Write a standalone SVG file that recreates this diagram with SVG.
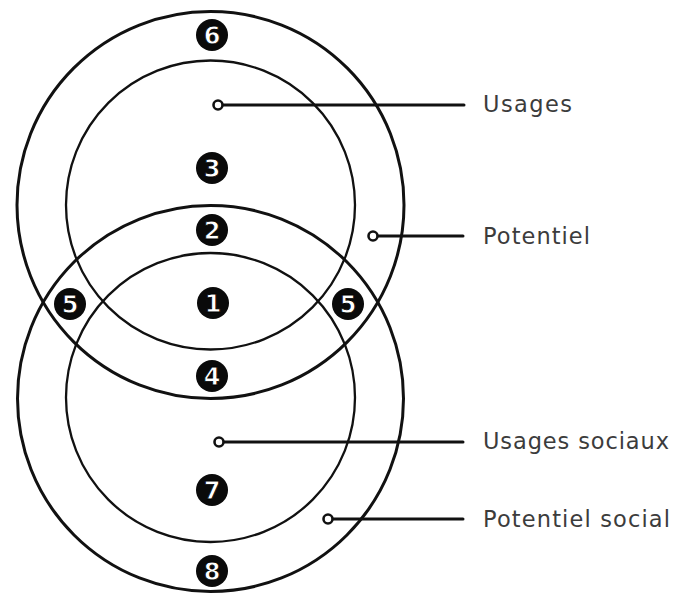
<svg xmlns="http://www.w3.org/2000/svg" width="675" height="594" viewBox="0 0 675 594">
  <style>
    .outer { fill: none; stroke: #111; stroke-width: 3; }
    .inner { fill: none; stroke: #111; stroke-width: 2.3; }
    .badge circle { fill: #0a0a0a; }
    .badge text { fill: #fff; font-family: "DejaVu Sans", sans-serif; font-weight: bold; font-size: 24px; text-anchor: middle; dominant-baseline: central; stroke: #000; stroke-width: 0.8; paint-order: fill; }
    .lbl { fill: #3c3c3c; font-family: "DejaVu Sans", "Liberation Sans", sans-serif; font-size: 22.5px; }
    .conn line { stroke: #111; stroke-width: 3; stroke-linecap: round; }
    .conn circle { fill: #fff; stroke: #111; stroke-width: 2.6; }
  </style>
  <rect width="675" height="594" fill="#fff"/>
  <g id="circles">
    <circle id="potentiel" class="outer" cx="210.5" cy="205" r="193.5"/>
    <circle id="usages" class="inner" cx="210.5" cy="205" r="144.5"/>
    <circle id="potentiel-social" class="outer" cx="210.5" cy="398.5" r="193"/>
    <circle id="usages-sociaux" class="inner" cx="210.5" cy="397.5" r="144.5"/>
  </g>
  <g id="connectors" class="conn">
    <line x1="218" y1="105" x2="464" y2="105"/>
    <circle cx="218" cy="105" r="4.5"/>
    <line x1="373" y1="236" x2="463" y2="236"/>
    <circle cx="373" cy="236" r="4.5"/>
    <line x1="219" y1="442" x2="463" y2="442"/>
    <circle cx="219" cy="442" r="4.5"/>
    <line x1="328" y1="519" x2="463" y2="519"/>
    <circle cx="328" cy="519" r="4.5"/>
  </g>
  <g id="badge-6" class="badge"><circle cx="212" cy="35" r="16"/><text x="212" y="36">6</text></g>
  <g id="badge-3" class="badge"><circle cx="212" cy="168" r="16"/><text x="212" y="169">3</text></g>
  <g id="badge-2" class="badge"><circle cx="212" cy="230" r="16"/><text x="212" y="231">2</text></g>
  <g id="badge-1" class="badge"><circle cx="213" cy="303" r="16"/><text x="213" y="304">1</text></g>
  <g id="badge-4" class="badge"><circle cx="212" cy="376" r="16"/><text x="212" y="377">4</text></g>
  <g id="badge-5-left" class="badge"><circle cx="70" cy="304" r="16"/><text x="70" y="305">5</text></g>
  <g id="badge-5-right" class="badge"><circle cx="348" cy="304" r="16"/><text x="348" y="305">5</text></g>
  <g id="badge-7" class="badge"><circle cx="212" cy="490" r="16"/><text x="212" y="491">7</text></g>
  <g id="badge-8" class="badge"><circle cx="212" cy="571" r="16"/><text x="212" y="572">8</text></g>
  <g id="label-usages"><text class="lbl" x="483" y="112" textLength="89" lengthAdjust="spacing">Usages</text></g>
  <g id="label-potentiel"><text class="lbl" x="483" y="244" textLength="107" lengthAdjust="spacing">Potentiel</text></g>
  <g id="label-usages-sociaux"><text class="lbl" x="483" y="449" textLength="186" lengthAdjust="spacing">Usages sociaux</text></g>
  <g id="label-potentiel-social"><text class="lbl" x="483" y="527" textLength="187" lengthAdjust="spacing">Potentiel social</text></g>
</svg>
